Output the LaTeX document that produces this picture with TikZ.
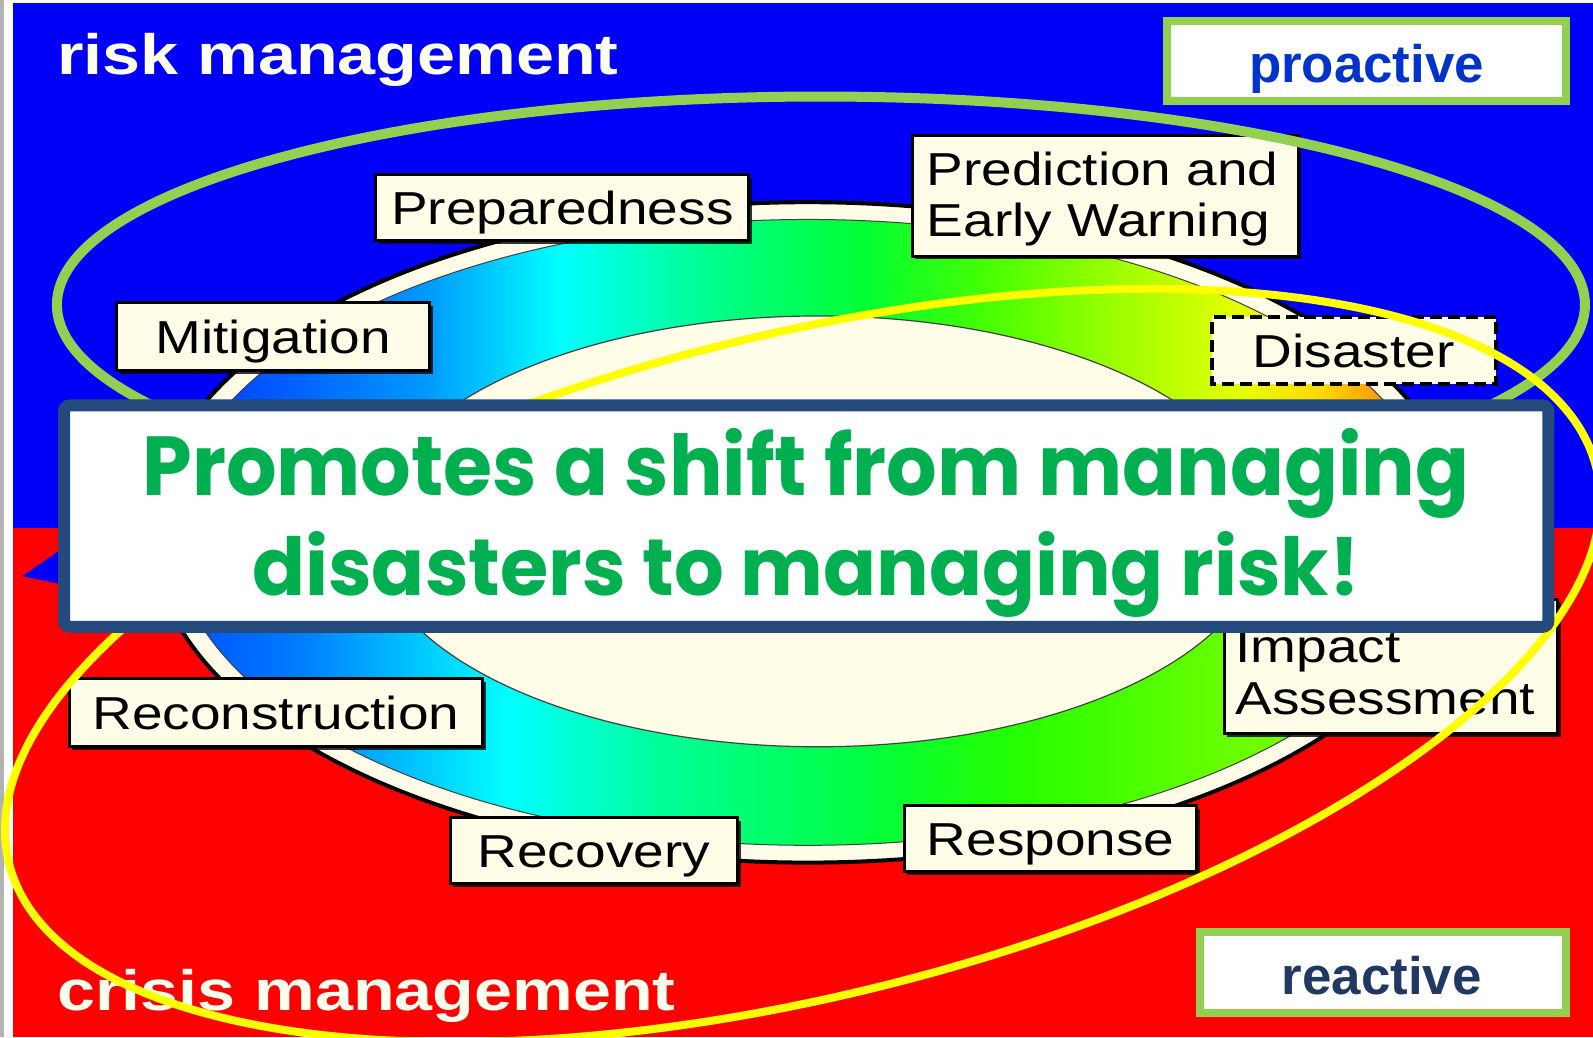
\documentclass[tikz,border=0pt]{standalone}
\usepackage{graphicx}
\usepackage{fontspec}
\setmainfont{Liberation Sans}
\newfontfamily\lblfont[FakeStretch=1.19]{Liberation Sans}
\newfontfamily\ttlfont[FakeStretch=1.2]{Liberation Sans}
\newfontfamily\comicfont{Poppins}
\usetikzlibrary{shadows}

\definecolor{bgblue}{RGB}{0,0,250}
\definecolor{bgred}{RGB}{255,0,0}
\definecolor{cream}{RGB}{255,253,232}
\definecolor{lgreen}{RGB}{146,208,80}
\definecolor{ylw}{RGB}{255,255,0}
\definecolor{navy}{RGB}{35,74,122}
\definecolor{txtgreen}{RGB}{0,176,80}
\definecolor{problue}{RGB}{0,51,204}
\definecolor{reanavy}{RGB}{31,56,100}
\definecolor{titlecream}{RGB}{255,255,240}

\pgfdeclarehorizontalshading{ringtop}{100bp}{%
 rgb(0bp)=(0,0.2,1); rgb(25bp)=(0,0.2,1); rgb(30.2bp)=(0,0.4,1);
 rgb(35bp)=(0,0.6,1); rgb(40.2bp)=(0,1,1); rgb(46.2bp)=(0,1,0.55);
 rgb(52.2bp)=(0,1,0.2); rgb(57.4bp)=(0.3,1,0); rgb(62.2bp)=(0.62,1,0);
 rgb(67bp)=(0.9,1,0); rgb(70.2bp)=(1,0.85,0); rgb(72.6bp)=(1,0.6,0);
 rgb(75bp)=(1,0.45,0); rgb(100bp)=(1,0.45,0)}
\pgfdeclarehorizontalshading{ringbot}{100bp}{%
 rgb(0bp)=(0,0.3,1); rgb(25bp)=(0,0.3,1); rgb(30.2bp)=(0,0.5,1);
 rgb(38.2bp)=(0,1,1); rgb(44.2bp)=(0,1,0.6); rgb(52.2bp)=(0,1,0.25);
 rgb(58.2bp)=(0.15,1,0); rgb(66.2bp)=(0.4,1,0); rgb(75bp)=(0.6,1,0);
 rgb(100bp)=(0.6,1,0)}

\tikzset{
  lblbox/.style={draw=black, line width=3pt, fill=cream, inner sep=0pt,
    drop shadow={shadow xshift=3pt, shadow yshift=-3pt, fill=black, opacity=0.8}},
  lbltext/.style={font=\lblfont\fontsize{45.5}{50}\selectfont, text=black,
    text height=32.6pt, text depth=0pt},
  lbltxt/.style={font=\lblfont\fontsize{45.5}{50}\selectfont, text=black,
    inner sep=0pt, anchor=base west},
  titletxt/.style={font=\ttlfont\bfseries\fontsize{56}{60}\selectfont,
    text=titlecream, inner sep=0pt, anchor=base west},
  tagbox/.style={draw=lgreen, line width=8pt, fill=white, inner sep=0pt},
  tagtxt/.style={font=\bfseries\fontsize{52}{56}\selectfont, inner sep=0pt, anchor=base},
  maintxt/.style={text=txtgreen, inner sep=0pt, anchor=base west}
}

\begin{document}
\begin{tikzpicture}[x=1pt,y=-1pt,scale=1.016,every node/.append style={transform shape}]
\useasboundingbox (0,0) rectangle (1567.9,1020.7);
% background
\fill[white] (0,0) rectangle (1568,1021);
\fill[gray!60] (0,0) rectangle (4,1021);
\fill[bgblue] (13,3) rectangle (1568,521);
\fill[bgred] (13,520) rectangle (1568,1021);
\fill[bgblue] (22,567) -- (60,541) -- (60,575) -- cycle;

% ring
\draw[black, line width=4pt, fill=cream] (795,524) ellipse [x radius=645, y radius=325];
\begin{scope}
  \clip (0,0) rectangle (1568,524);
  \shade[shading=ringtop] (795,524) ellipse [x radius=625, y radius=308];
\end{scope}
\begin{scope}
  \clip (0,523) rectangle (1568,1021);
  \shade[shading=ringbot] (795,524) ellipse [x radius=625, y radius=308];
\end{scope}
\draw[black!75, line width=1pt] (795,524) ellipse [x radius=625, y radius=308];
\draw[black!75, line width=1.2pt, fill=cream] (805,523) ellipse [x radius=440, y radius=212];

% labels
\node[lblbox, lbltext, minimum width=367pt, minimum height=65pt] (prep) at (553.5,204.5) {Preparedness};
\node[lblbox, minimum width=380pt, minimum height=119pt] (pred) at (1088,192.5) {};
\node[lbltxt] (pred1) at (912,183) {Prediction and};
\node[lbltxt] (pred2) at (912,233) {Early Warning};
\node[lblbox, lbltext, minimum width=308pt, minimum height=67pt] (miti) at (269,331.5) {Mitigation};
\node[draw=black, line width=4pt, dash pattern=on 12pt off 6pt, fill=cream, inner sep=0pt,
      lbltext, minimum width=279pt, minimum height=66pt] (disa) at (1332.5,345) {Disaster};
\node[lblbox, minimum width=328pt, minimum height=132pt] (impa) at (1369,656) {};
\node[lbltxt] (impa1) at (1216,652) {Impact};
\node[lbltxt] (impa2) at (1216,703) {Assessment};
\node[lblbox, lbltext, minimum width=407pt, minimum height=67pt] (reco) at (271.5,701.5) {Reconstruction};
\node[lblbox, lbltext, minimum width=283pt, minimum height=65pt] (recv) at (584.5,837.5) {Recovery};
\node[lblbox, lbltext, minimum width=288pt, minimum height=65pt] (resp) at (1034,825.5) {Response};

% titles
\node[titletxt] (risk) at (56,73) {risk management};
\node[titletxt] (crisis) at (56,995) {crisis management};

% ellipses
\draw[lgreen, line width=10pt] (808,300) ellipse [x radius=752, y radius=205];
\draw[ylw, line width=8pt, rotate around={14:(790,655)}] (790,655) ellipse [x radius=805, y radius=325];

% main box
\node[draw=navy, line width=12pt, fill=white, rounded corners=6pt, inner sep=0pt,
      minimum width=1461pt, minimum height=218pt] (main) at (793.5,508) {};
\node[maintxt] (line1) at (140,488) {\resizebox{1305pt}{66pt}{\comicfont\bfseries Promotes a shift from managing}};
\node[maintxt] (line2) at (248,586) {\resizebox{1090pt}{63pt}{\comicfont\bfseries disasters to managing risk!}};

% tags
\node[tagbox, minimum width=392pt, minimum height=78pt] (pro) at (1345,60) {};
\node[tagtxt, text=problue] (protxt) at (1345,81) {proactive};
\node[tagbox, minimum width=360pt, minimum height=80pt] (rea) at (1361,957) {};
\node[tagtxt, text=reanavy] (reatxt) at (1360,979) {reactive};
\end{tikzpicture}
\end{document}
